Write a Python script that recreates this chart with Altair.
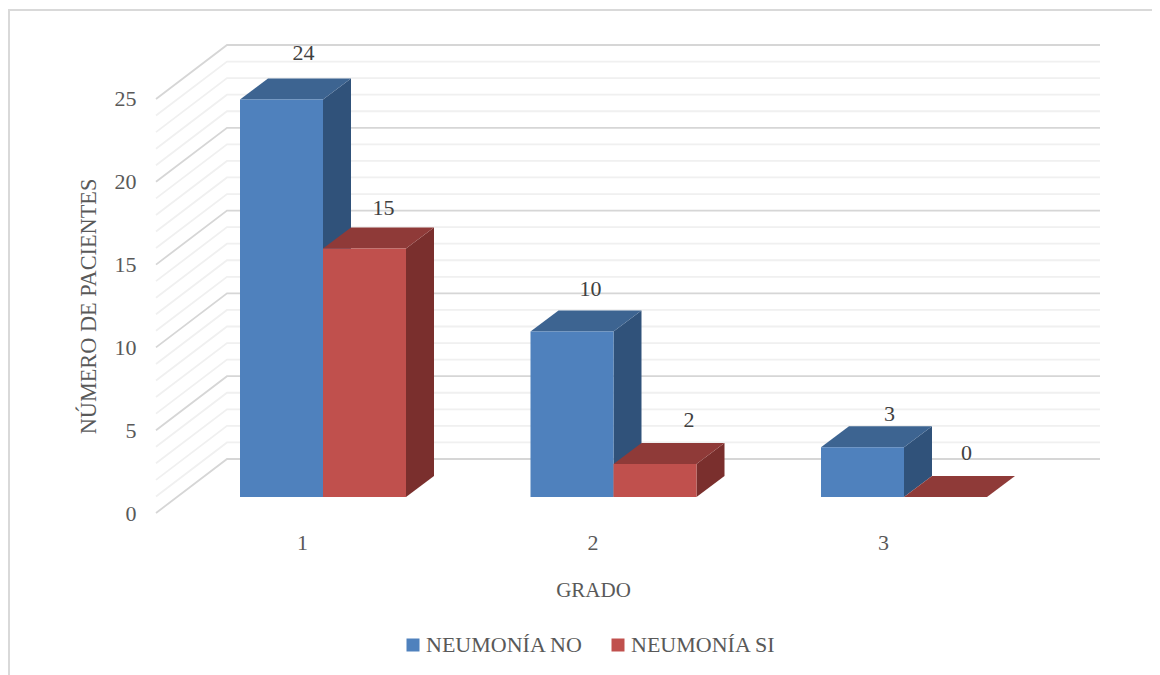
import altair as alt
import pandas as pd

GRADES = [1, 2, 3]
SERIES = ["NEUMONÍA NO", "NEUMONÍA SI"]
NEUMONIA_NO = [24, 10, 3]
NEUMONIA_SI = [15, 2, 0]
Y_TICKS = [0, 5, 10, 15, 20, 25]
Y_LEVELS = list(range(0, 26))

# geometry expressed in scale units
X_UNIT = 290.5
Y_UNIT = 16.56
BAR_W = 83 / X_UNIT
BAR_LEFT = -62 / X_UNIT
DEPTH_X = 28 / X_UNIT
DEPTH_Y = 21 / Y_UNIT
BASE = 16 / Y_UNIT
WALL_X = 71 / X_UNIT
WALL_Y = 54 / Y_UNIT
X_DOMAIN = [0.4974, 3.747]
Y_DOMAIN = [0, 28.26]
# manual nudges of Excel's data labels (x in px, y in px above the top face's back edge)
LABEL_NX = [[8, 4.5, 13], [5, 20, 7]]
LABEL_NY = [[26, 21, 12.5], [20, 23, 22.5]]

COLORS = {
    "front": ["#4f81bd", "#c0504d"],
    "side": ["#30527a", "#7a2f2d"],
    "top": ["#3d6491", "#8f3a38"],
}
FONT = "Liberation Serif"
TXT = "#595959"
FS = 22

x_scale = alt.Scale(domain=X_DOMAIN, nice=False, zero=False)
y_scale = alt.Scale(domain=Y_DOMAIN, nice=False, zero=False)

bars, sides, tops, labels = [], [], [], []
for s, (name, vals) in enumerate(zip(SERIES, [NEUMONIA_NO, NEUMONIA_SI])):
    for i, (g, v) in enumerate(zip(GRADES, vals)):
        x0 = g + BAR_LEFT + s * BAR_W
        x1 = x0 + BAR_W
        y0 = BASE
        y1 = BASE + v
        bars.append(dict(serie=name, x=x0, x2=x1, y=y0, y2=y1))
        for k in (0, 1):
            sides.append(dict(s=s, g=g, x=x1 + k * DEPTH_X, y=y0 + k * DEPTH_Y, y2=y1 + k * DEPTH_Y))
            tops.append(dict(s=s, g=g, x=x0 + k * DEPTH_X, x2=x1 + k * DEPTH_X, y=y1 + k * DEPTH_Y))
        labels.append(dict(
            t=str(v),
            x=(x0 + x1) / 2 + DEPTH_X / 2 + LABEL_NX[s][i] / X_UNIT,
            y=y1 + DEPTH_Y + LABEL_NY[s][i] / Y_UNIT,
        ))
bars, sides, tops, labels = map(pd.DataFrame, (bars, sides, tops, labels))

grid = []
for lv in Y_LEVELS:
    pts = [(X_DOMAIN[0], lv), (X_DOMAIN[0] + WALL_X, lv + WALL_Y), (X_DOMAIN[1], lv + WALL_Y)]
    for o, (px, py) in enumerate(pts):
        grid.append(dict(lv=lv, o=o, x=px, y=py, major=lv % 5 == 0))
grid = pd.DataFrame(grid)

X = lambda f="x": alt.X(f"{f}:Q", scale=x_scale, axis=None)
Y = lambda f="y": alt.Y(f"{f}:Q", scale=y_scale, axis=None)

axes = alt.Chart(pd.DataFrame({"x": GRADES, "y": [0, 0, 0]})).mark_point(opacity=0).encode(
    x=alt.X("x:Q", scale=x_scale, axis=alt.Axis(
        values=GRADES, format="d", title="GRADO", domain=False, ticks=False, grid=False,
        labelPadding=19, labelFont=FONT, labelFontSize=FS, labelColor=TXT, labelFontWeight="normal",
        titleFont=FONT, titleFontSize=21, titleColor=TXT, titleFontWeight="normal",
        titleX=437, titleY=77, titleBaseline="middle", titleAlign="center", titleAnchor="start")),
    y=alt.Y("y:Q", scale=y_scale, axis=alt.Axis(
        values=Y_TICKS, format="d", title="NÚMERO DE PACIENTES", domain=False, ticks=False, grid=False,
        labelPadding=20, labelFont=FONT, labelFontSize=FS, labelColor=TXT,
        titleFont=FONT, titleFontSize=22.3, titleColor=TXT, titleFontWeight="normal",
        titleX=-68, titleY=261, titleAngle=270, titleBaseline="middle", titleAlign="center", titleAnchor="start")),
)

grid_minor = alt.Chart(grid[~grid.major]).mark_line(color="#f0f0f0", strokeWidth=1.8).encode(
    x=X(), y=Y(), detail="lv:N", order="o:Q")
grid_major = alt.Chart(grid[grid.major]).mark_line(color="#d6d6d6", strokeWidth=1.8).encode(
    x=X(), y=Y(), detail="lv:N", order="o:Q")

layers = [axes, grid_minor, grid_major]
for s in (0, 1):
    layers.append(alt.Chart(sides[sides.s == s]).mark_area(color=COLORS["side"][s], opacity=1).encode(
        x=X(), y=Y(), y2="y2:Q", detail="g:N"))
    layers.append(alt.Chart(tops[tops.s == s]).mark_area(color=COLORS["top"][s], opacity=1, orient="horizontal").encode(
        x=X(), x2="x2:Q", y=Y(), detail="g:N"))

front = alt.Chart(bars).mark_bar(opacity=1).encode(
    x=X(), x2="x2:Q", y=Y(), y2="y2:Q",
    color=alt.Color("serie:N", scale=alt.Scale(domain=SERIES, range=COLORS["front"]), legend=alt.Legend(
        orient="none", legendX=246, legendY=589, direction="horizontal", title=None, columns=2,
        symbolType="square", symbolSize=169, symbolStrokeWidth=0, symbolOpacity=1,
        labelFont=FONT, labelFontSize=FS, labelColor=TXT, columnPadding=23, labelOffset=2)),
)
layers.append(front)

layers.append(alt.Chart(labels).mark_text(font=FONT, fontSize=FS, color="#404040", baseline="middle").encode(
    x=X(), y=Y(), text="t:N"))

frame_color = "#d9d9d9"
layers.append(alt.Chart(pd.DataFrame({"a": [0]})).mark_rule(color=frame_color, strokeWidth=2).encode(
    x=alt.value(-148), x2=alt.value(996), y=alt.value(-35)))
layers.append(alt.Chart(pd.DataFrame({"a": [0]})).mark_rule(color=frame_color, strokeWidth=2).encode(
    x=alt.value(-147), y=alt.value(-35), y2=alt.value(630)))

chart = alt.layer(*layers).resolve_axis(x="independent", y="independent").properties(
    width=944, height=468,
    padding={"left": 148, "top": 37, "right": 52, "bottom": 162},
    autosize=alt.AutoSizeParams(type="none"),
    background="white",
).configure_view(stroke=None)

chart.save("out.html", embed_options={"renderer": "svg", "actions": False})
